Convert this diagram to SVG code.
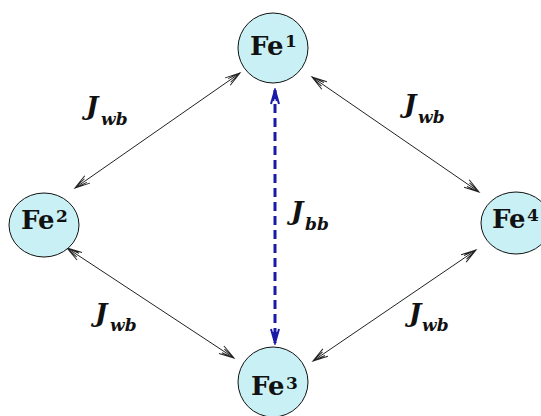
<svg xmlns="http://www.w3.org/2000/svg" width="541" height="416" viewBox="0 0 541 416">
<style>
.t{font-family:"DejaVu Serif","Liberation Serif",serif;font-weight:bold;fill:#111}
.node{fill:#c9f1f5;stroke:#111;stroke-width:1}
.fe{font-size:26px}
.sup{font-size:17px}
.J{font-style:italic;font-size:26px}
.sub{font-style:italic;font-size:17px}
.wb{stroke:#222;stroke-width:1;fill:none;marker-start:url(#ah);marker-end:url(#ah)}
.bb{stroke:#1a1aa8;stroke-width:3;fill:none;stroke-dasharray:9 5;marker-start:url(#ab);marker-end:url(#ab)}
</style>
<defs>
<marker id="ah" viewBox="-16 -6 18 12" refX="0" refY="0" markerWidth="18" markerHeight="12" markerUnits="userSpaceOnUse" orient="auto-start-reverse">
<path d="M-15,-4.5 L0,0 L-15,4.5 M-13,-2.2 L0,0 L-13,2.2" fill="none" stroke="#222" stroke-width="1"/>
</marker>
<marker id="ab" viewBox="-16 -6 18 12" refX="0" refY="0" markerWidth="18" markerHeight="12" markerUnits="userSpaceOnUse" orient="auto-start-reverse">
<path d="M-14,-4 L0,0 L-14,4 M-11,-1.8 L0,0 L-11,1.8" fill="none" stroke="#1a1aa8" stroke-width="2"/>
</marker>
</defs>
<rect width="541" height="416" fill="#fff"/>
<g id="connectors">
<line class="wb" x1="75" y1="188" x2="240" y2="73"/>
<line class="wb" x1="312" y1="77" x2="479" y2="192"/>
<line class="wb" x1="67" y1="248" x2="234" y2="358"/>
<line class="wb" x1="313" y1="361" x2="476" y2="250"/>
<line class="bb" x1="275" y1="90" x2="275" y2="343"/>
</g>
<g id="labels">
<text x="86" y="115" class="t J">J</text><text x="101" y="125" class="t sub">wb</text>
<text x="404" y="113" class="t J">J</text><text x="418" y="123" class="t sub">wb</text>
<text x="95" y="322" class="t J">J</text><text x="110" y="331" class="t sub">wb</text>
<text x="409" y="322" class="t J">J</text><text x="422" y="331" class="t sub">wb</text>
<text x="291" y="220" class="t J">J</text><text x="305" y="230" class="t sub">bb</text>
</g>
<g id="fe1"><circle class="node" cx="273" cy="48" r="35"/><text x="250" y="55" class="t fe">Fe</text><text x="285" y="47" class="t sup">1</text></g>
<g id="fe2"><ellipse class="node" cx="44" cy="225" rx="35" ry="32"/><text x="21" y="229" class="t fe">Fe</text><text x="56" y="222" class="t sup">2</text></g>
<g id="fe3"><circle class="node" cx="273" cy="382" r="35"/><text x="251" y="395" class="t fe">Fe</text><text x="286" y="389" class="t sup">3</text></g>
<g id="fe4"><ellipse class="node" cx="516" cy="223" rx="35" ry="31"/><text x="492" y="228" class="t fe">Fe</text><text x="527" y="221" class="t sup">4</text></g>
</svg>
